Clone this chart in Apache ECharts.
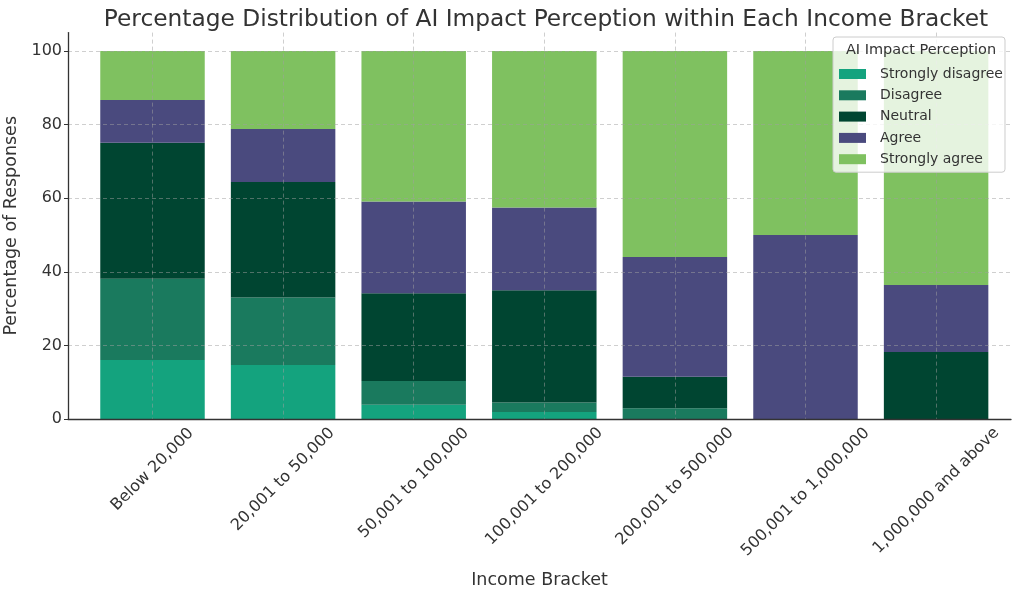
<!DOCTYPE html>
<html><head><meta charset="utf-8">
<script src="https://cdn.jsdelivr.net/npm/echarts@6/dist/echarts.min.js"></script>
<style>html,body{margin:0;padding:0;background:#fff}#c{width:1017px;height:593px}</style>
</head><body><div id="c"></div>
<script>
const categories = ['Below 20,000','20,001 to 50,000','50,001 to 100,000','100,001 to 200,000','200,001 to 500,000','500,001 to 1,000,000','1,000,000 and above'];
const seriesNames = ['Strongly disagree','Disagree','Neutral','Agree','Strongly agree'];
const stronglyDisagree = [16.0, 14.7, 3.9, 1.9, 0, 0, 0];
const disagree = [22.1, 18.3, 6.4, 2.6, 2.9, 0, 0];
const neutral = [37.0, 31.4, 23.9, 30.5, 8.6, 0, 18.2];
const agree = [11.6, 14.4, 24.9, 22.5, 32.5, 50.0, 18.2];
const stronglyAgree = [13.3, 21.2, 40.9, 42.5, 56.0, 50.0, 63.6];
const yTicks = [0, 20, 40, 60, 80, 100];

const FONT = '"DejaVu Sans", sans-serif';
const colors = ['#14a37e', '#1a7a5e', '#004531', '#4a4a7e', '#7fc160'];
const allValues = [stronglyDisagree, disagree, neutral, agree, stronglyAgree];

// per-label padding so rotated labels are centred under their tick (matplotlib style)
const cv = document.createElement('canvas').getContext('2d');
const LFS = 16;
cv.font = LFS + 'px ' + FONT;
const rich = {};
categories.forEach((c, i) => {
  const L = cv.measureText(c).width;
  const P = Math.round((L + LFS) / 2);
  rich['p' + i] = { padding: [P, P, 0, 0], fontSize: LFS, fontFamily: FONT, color: '#333' };
});

const gridLine = { show: true, lineStyle: { type: [4, 3], color: 'rgba(160,160,160,0.5)', width: 1 } };

const option = {
  animation: false,
  backgroundColor: '#fff',
  title: [
    { text: 'Percentage Distribution of AI Impact Perception within Each Income Bracket', left: 541, top: 3, textAlign: 'center',
      textStyle: { fontFamily: FONT, fontSize: 23.3, fontWeight: 'normal', color: '#333' } },
    { text: 'AI Impact Perception', left: 921, top: 43, textAlign: 'center', z: 20, padding: 0,
      textStyle: { fontFamily: FONT, fontSize: 14.5, fontWeight: 'normal', color: '#333' } }
  ],
  legend: {
    orient: 'vertical', left: 833, top: 37, z: 10,
    data: seriesNames,
    itemWidth: 27, itemHeight: 10, itemGap: 7.3,
    padding: [30, 2, 6, 6],
    backgroundColor: 'rgba(255,255,255,0.8)', borderColor: '#cccccc', borderWidth: 1, borderRadius: 3,
    textStyle: { fontFamily: FONT, fontSize: 14, color: '#333', padding: [0, 0, 0, 9] },
    icon: 'rect'
  },
  grid: [
    { left: 87.2, right: 15.6, top: 32.6, bottom: 174, outerBoundsMode: 'none', containLabel: false },
    { left: 68, right: 6, top: 32.6, bottom: 174, outerBoundsMode: 'none', containLabel: false }
  ],
  xAxis: [
    {
      type: 'category', gridIndex: 0, data: categories, z: 3,
      axisLine: { show: false }, axisTick: { show: false, alignWithLabel: true },
      axisLabel: {
        interval: 0, rotate: 45, align: 'center', verticalAlign: 'middle', margin: 6, hideOverlap: false,
        formatter: (v, i) => '{p' + i + '|' + v + '}', rich: rich
      },
      splitLine: Object.assign({ interval: 0, alignWithLabel: true }, gridLine)
    },
    {
      type: 'value', gridIndex: 1, min: 0, max: 1, z: 3,
      name: 'Income Bracket', nameLocation: 'middle', nameGap: 152,
      nameTextStyle: { fontFamily: FONT, fontSize: 17.5, color: '#333' },
      axisLine: { show: true, onZero: false, lineStyle: { color: '#333', width: 1.3 } },
      axisTick: { show: false }, axisLabel: { show: false }, splitLine: { show: false }
    }
  ],
  yAxis: [
    { type: 'value', gridIndex: 0, min: 0, max: 105, show: false, splitLine: { show: false } },
    {
      type: 'value', gridIndex: 1, min: 0, max: 105, interval: 20, z: 3,
      name: 'Percentage of Responses', nameLocation: 'middle', nameGap: 40,
      nameTextStyle: { fontFamily: FONT, fontSize: 17.5, color: '#333' },
      axisLine: { show: true, onZero: false, lineStyle: { color: '#333', width: 1.3 } },
      axisTick: { show: true, length: 4, customValues: yTicks, lineStyle: { color: '#333' } },
      axisLabel: { customValues: yTicks, fontFamily: FONT, fontSize: 16, color: '#333', margin: 6 },
      splitLine: gridLine
    }
  ],
  series: seriesNames.map((n, s) => ({
    name: n, type: 'bar', stack: 'total', barWidth: '80%', xAxisIndex: 0, yAxisIndex: 0,
    itemStyle: { color: colors[s] },
    data: allValues[s]
  }))
};
echarts.init(document.getElementById('c')).setOption(option);
</script></body></html>
